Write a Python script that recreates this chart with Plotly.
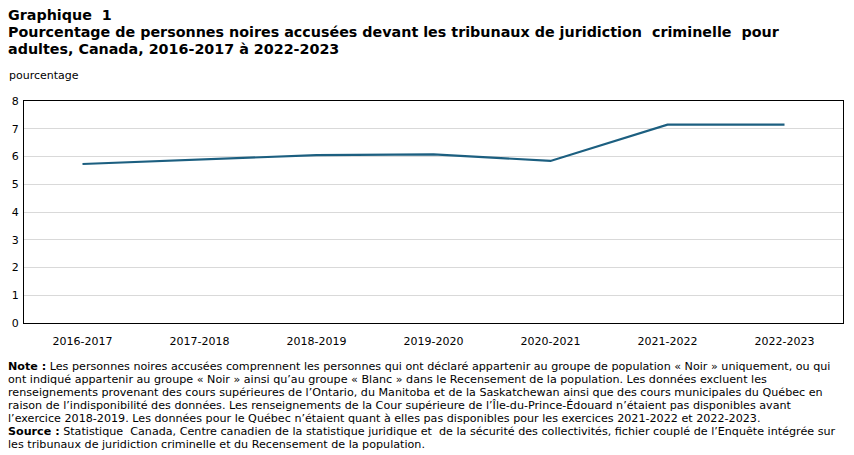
import plotly.graph_objects as go

categories = ["2016-2017", "2017-2018", "2018-2019", "2019-2020", "2020-2021", "2021-2022", "2022-2023"]
values = [5.73, 5.88, 6.05, 6.08, 5.84, 7.15, 7.15]
y_ticks = [0, 1, 2, 3, 4, 5, 6, 7, 8]

title_lines = [
    "Graphique  1",
    "Pourcentage de personnes noires accusées devant les tribunaux de juridiction  criminelle  pour",
    "adultes, Canada, 2016-2017 à 2022-2023",
]
note_lines = [
    "<b>Note :</b> Les personnes noires accusées comprennent les personnes qui ont déclaré appartenir au groupe de population « Noir » uniquement, ou qui",
    "ont indiqué appartenir au groupe « Noir » ainsi qu’au groupe « Blanc » dans le Recensement de la population. Les données excluent les",
    "renseignements provenant des cours supérieures de l’Ontario, du Manitoba et de la Saskatchewan ainsi que des cours municipales du Québec en",
    "raison de l’indisponibilité des données. Les renseignements de la Cour supérieure de l’Île-du-Prince-Édouard n’étaient pas disponibles avant",
    "l’exercice 2018-2019. Les données pour le Québec n’étaient quant à elles pas disponibles pour les exercices 2021-2022 et 2022-2023.",
    "<b>Source :</b> Statistique  Canada, Centre canadien de la statistique juridique et  de la sécurité des collectivités, fichier couplé de l’Enquête intégrée sur",
    "les tribunaux de juridiction criminelle et du Recensement de la population.",
]

W, H = 854, 455
L, R, T, B = 24, 11, 101, 132
ph = H - T - B

def py(ypx):
    return (H - B - ypx) / ph

def px(xpx):
    return (xpx - L) / (W - L - R)

fig = go.Figure()
fig.add_trace(go.Scatter(
    x=categories, y=values, mode="lines",
    line=dict(color="#1c5f80", width=2.2),
    hoverinfo="x+y", showlegend=False,
))

font = "DejaVu Sans, Verdana, sans-serif"
fig.update_layout(
    width=W, height=H,
    margin=dict(l=L, r=R, t=T, b=B),
    paper_bgcolor="white", plot_bgcolor="white",
    font=dict(family=font, size=11, color="black"),
    xaxis=dict(
        type="category", range=[-0.5, 6.5],
        showgrid=False, showline=True, linecolor="black", linewidth=1.3, mirror=True,
        ticks="", tickfont=dict(size=11), ticklabelstandoff=8,
    ),
    yaxis=dict(
        range=[0, 8], tickvals=y_ticks, showgrid=True, gridcolor="#d9d9d9", gridwidth=1,
        showline=True, linecolor="black", linewidth=1.3, mirror=True,
        ticks="", tickfont=dict(size=11), zeroline=False, ticklabelstandoff=2,
    ),
)

annotations = []
for i, t in enumerate(title_lines):
    annotations.append(dict(
        text="<b>" + t + "</b>", x=px(6), y=py(5 + i * 17), xref="paper", yref="paper",
        xanchor="left", yanchor="top", showarrow=False,
        font=dict(family=font, size=14.3, color="black"),
    ))
annotations.append(dict(
    text="pourcentage", x=px(7), y=py(67), xref="paper", yref="paper",
    xanchor="left", yanchor="top", showarrow=False, font=dict(family=font, size=11),
))
for i, t in enumerate(note_lines):
    annotations.append(dict(
        text=t, x=px(6), y=py(358 + i * 13), xref="paper", yref="paper",
        xanchor="left", yanchor="top", showarrow=False,
        font=dict(family=font, size=11.15, color="black"),
    ))
fig.update_layout(annotations=annotations)

fig.write_html("out.html")
